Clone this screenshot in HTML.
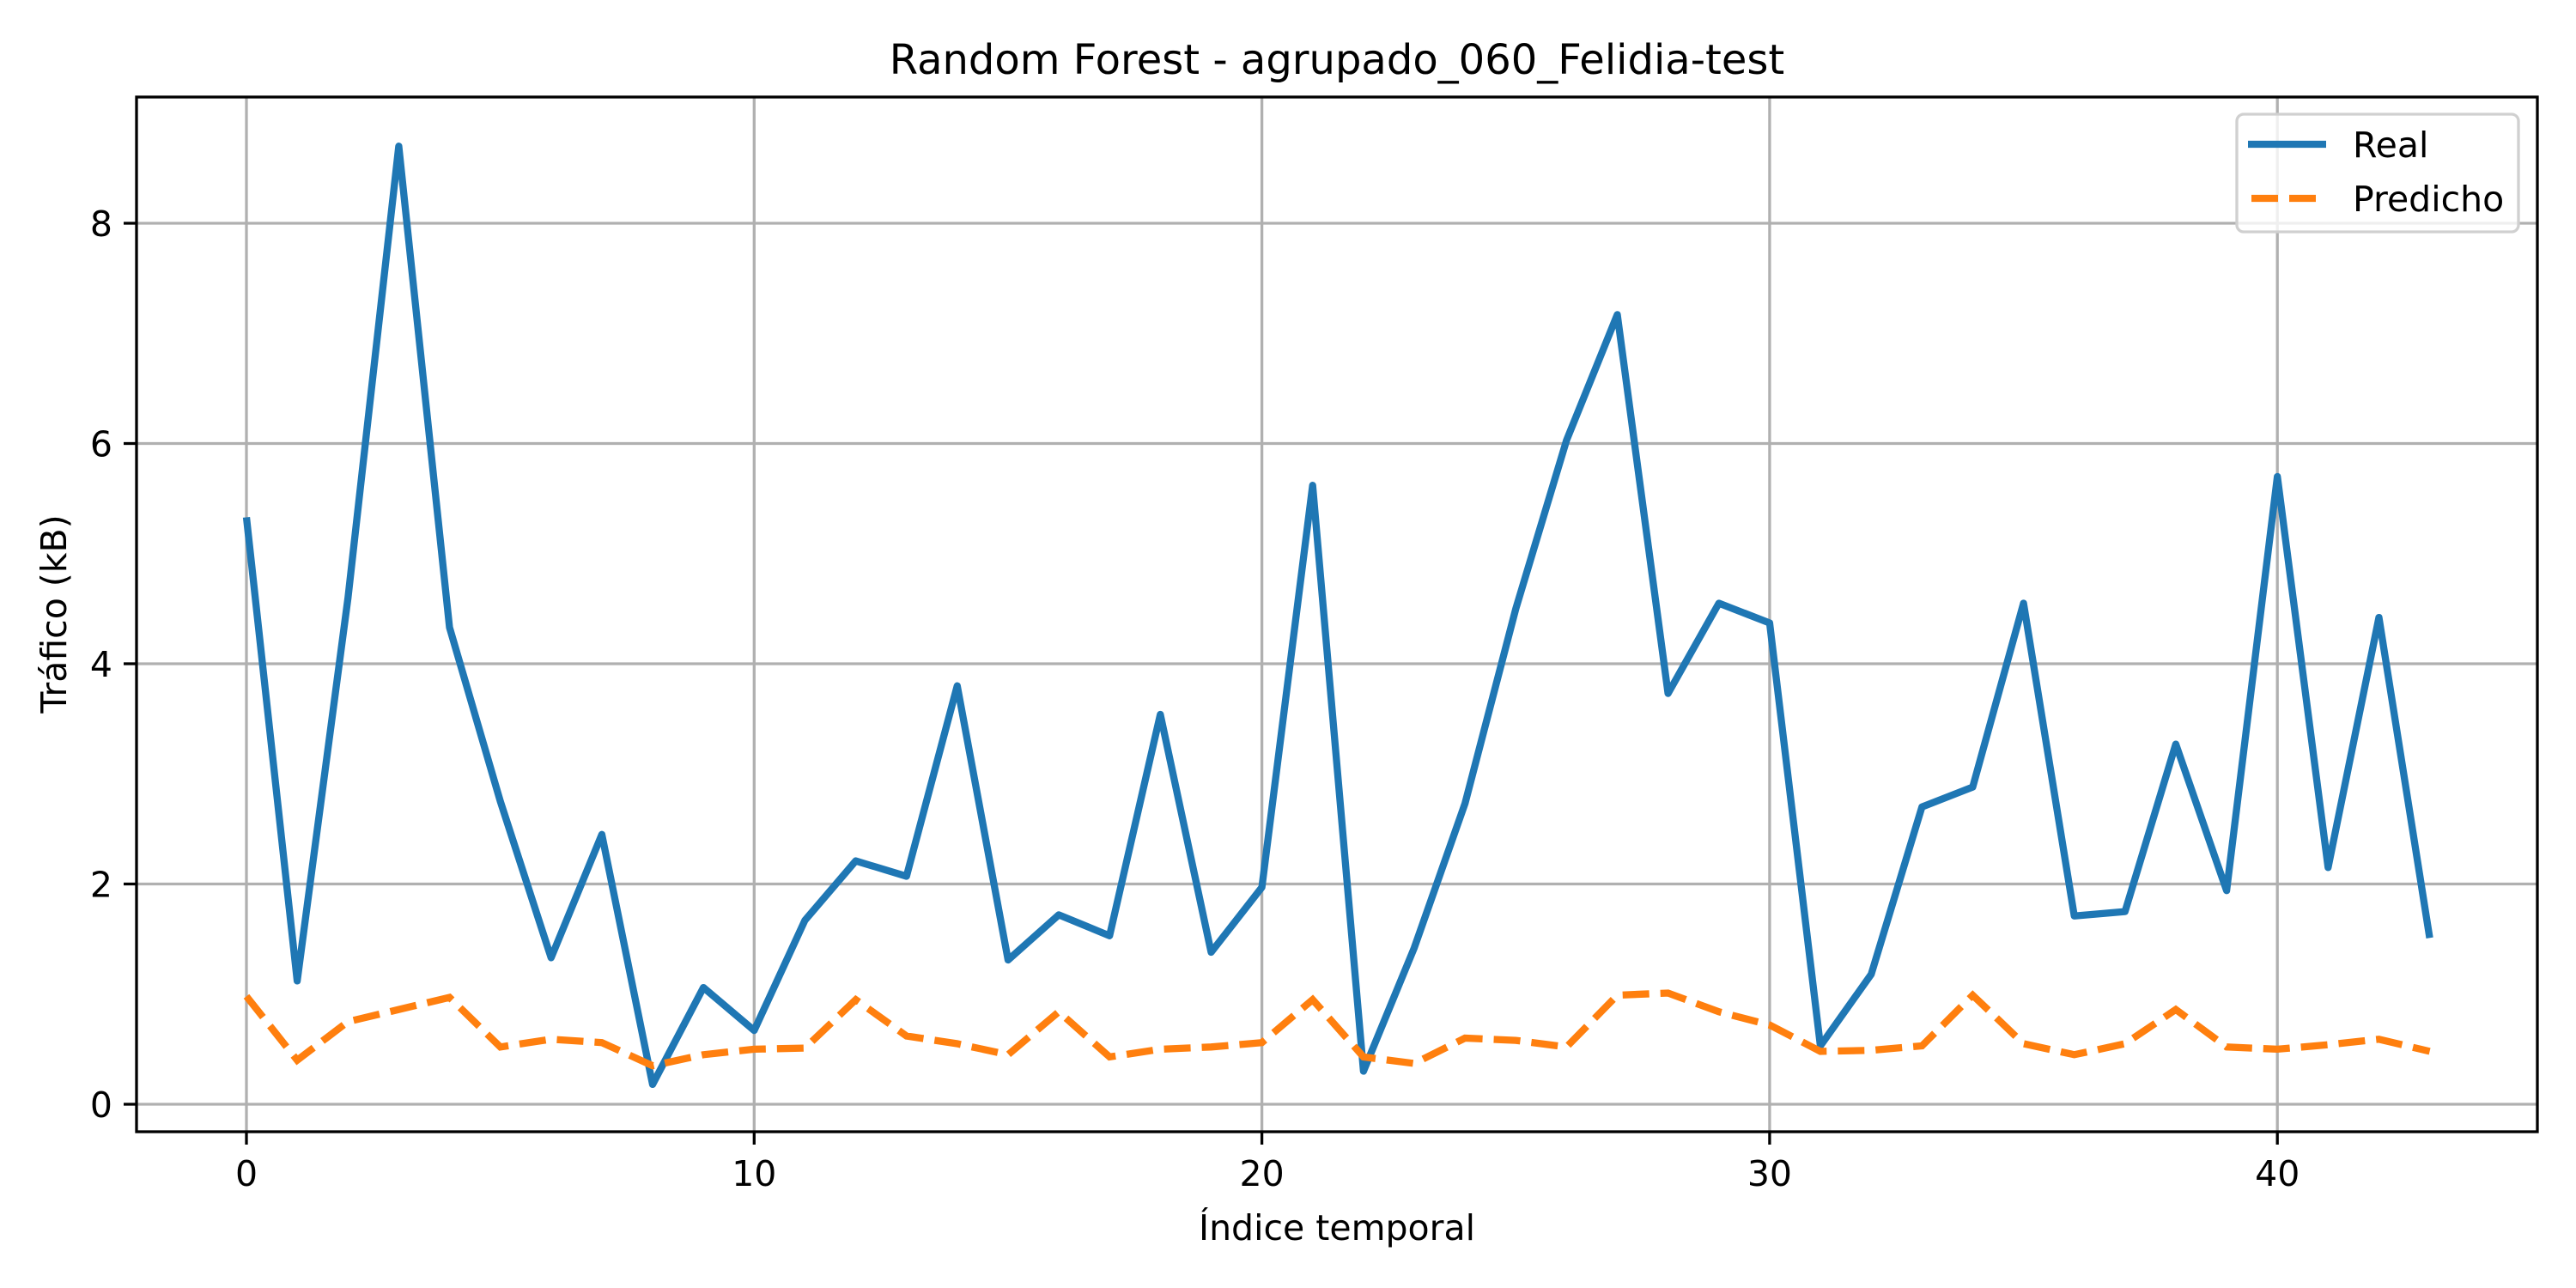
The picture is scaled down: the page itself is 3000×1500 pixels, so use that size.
<!DOCTYPE html>
<html><head><meta charset="utf-8"><style>
html,body{margin:0;padding:0;background:#fff}
svg{display:block;font-family:"DejaVu Sans","Liberation Sans",sans-serif}
</style></head><body>
<svg id="chart" width="3000" height="1500" viewBox="0 0 3000 1500" xmlns="http://www.w3.org/2000/svg">
<rect x="0" y="0" width="3000" height="1500" fill="#fff"/>
<text x="1557" y="86" font-size="48" text-anchor="middle">Random Forest - agrupado_060_Felidia-test</text>
<g id="grid"></g>
<g id="series"></g>
<rect x="159" y="113" width="2796" height="1205" fill="none" stroke="#000" stroke-width="3.3"/>
<g id="ticks"></g>
<text x="1557" y="1444" font-size="41" text-anchor="middle">Índice temporal</text>
<text transform="translate(77,715) rotate(-90)" font-size="41" text-anchor="middle">Tráfico (kB)</text>
<g>
<rect x="2605" y="133" width="328" height="137" rx="8" fill="#fff" fill-opacity="0.8" stroke="#d0d0d0" stroke-width="3.3"/>
<line x1="2618" y1="168" x2="2709" y2="168" stroke="#1f77b4" stroke-width="8.3"/>
<text x="2740" y="183" font-size="41">Real</text>
<line x1="2622" y1="231" x2="2697" y2="231" stroke="#ff7f0e" stroke-width="8.3" stroke-dasharray="31 13"/>
<text x="2740" y="246" font-size="41">Predicho</text>
</g>
</svg>
<script>
const realValues=[5.33,1.12,4.6,8.7,4.33,2.75,1.33,2.45,0.18,1.06,0.67,1.67,2.21,2.07,3.8,1.31,1.72,1.53,3.54,1.38,1.97,5.62,0.3,1.42,2.73,4.5,6.03,7.17,3.73,4.55,4.37,0.53,1.18,2.7,2.88,4.55,1.71,1.75,3.27,1.94,5.7,2.15,4.42,1.51];
const predValues=[0.98,0.4,0.75,0.86,0.97,0.52,0.59,0.56,0.35,0.45,0.5,0.51,0.95,0.62,0.55,0.45,0.84,0.43,0.5,0.52,0.56,0.95,0.43,0.37,0.6,0.58,0.52,0.99,1.01,0.84,0.72,0.48,0.49,0.53,0.99,0.55,0.45,0.55,0.86,0.52,0.5,0.54,0.59,0.48];
const xTicks=[0,10,20,30,40];
const yTicks=[0,2,4,6,8];
const NS="http://www.w3.org/2000/svg";
function xs(v){return 287+v*59.13;}
function ys(v){return 1286-v*128.25;}
function mk(tag,attrs,parent){const e=document.createElementNS(NS,tag);for(const k in attrs)e.setAttribute(k,attrs[k]);parent.appendChild(e);return e;}
const grid=document.getElementById('grid'),ticks=document.getElementById('ticks'),series=document.getElementById('series');
xTicks.forEach(t=>{
 const g=mk('line',{x1:xs(t),x2:xs(t),y1:113,y2:1318,stroke:'#b0b0b0','stroke-width':3.3},grid);
 
 
 const tk=mk('line',{x1:xs(t),x2:xs(t),y1:1318,y2:1333,stroke:'#000','stroke-width':3.3},ticks);
 
 
 const lb=mk('text',{x:xs(t),y:1381,'font-size':41,'text-anchor':'middle'},ticks);
 lb.textContent=t;
 
 
});
yTicks.forEach(t=>{
 const g=mk('line',{x1:159,x2:2955,y1:ys(t),y2:ys(t),stroke:'#b0b0b0','stroke-width':3.3},grid);
 
 
 const tk=mk('line',{x1:144,x2:159,y1:ys(t),y2:ys(t),stroke:'#000','stroke-width':3.3},ticks);
 
 
 const lb=mk('text',{x:131,y:ys(t)+15,'font-size':41,'text-anchor':'end'},ticks);
 lb.textContent=t;
 
 
});
function pts(a){return a.map((v,i)=>xs(i).toFixed(1)+','+ys(v).toFixed(1)).join(' ');}
const pl=mk('polyline',{points:pts(realValues),fill:'none',stroke:'#1f77b4','stroke-width':8.3,'stroke-linejoin':'round'},series);


const pp=mk('polyline',{points:pts(predValues),fill:'none',stroke:'#ff7f0e','stroke-width':8.3,'stroke-dasharray':'31 13'},series);


</script>
</body></html>
